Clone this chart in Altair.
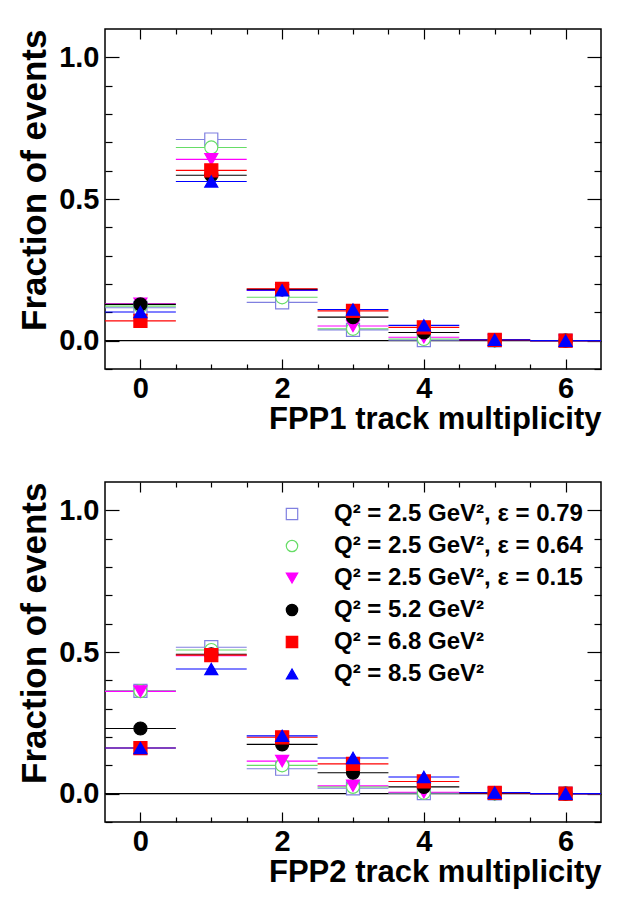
import altair as alt
import pandas as pd

bins = [0, 1, 2, 3, 4, 5, 6]
labels = [
    "Q² = 2.5 GeV², ε = 0.79",
    "Q² = 2.5 GeV², ε = 0.64",
    "Q² = 2.5 GeV², ε = 0.15",
    "Q² = 5.2 GeV²",
    "Q² = 6.8 GeV²",
    "Q² = 8.5 GeV²",
]
shapes = ["square", "circle", "triangle-down", "circle", "square", "triangle-up"]
fills = ["white", "white", "#ff00ff", "black", "#ff0000", "#0000ff"]
strokes = ["#8080e0", "#66dd66", "#ff00ff", "black", "#ff0000", "#0000ff"]

fpp1 = [
    [0.116, 0.710, 0.135, 0.038, 0.002, 0.001, 0.000],
    [0.122, 0.682, 0.153, 0.042, 0.006, 0.001, 0.000],
    [0.130, 0.640, 0.177, 0.052, 0.012, 0.001, 0.000],
    [0.128, 0.584, 0.181, 0.083, 0.029, 0.002, 0.000],
    [0.070, 0.601, 0.183, 0.105, 0.047, 0.003, 0.000],
    [0.101, 0.562, 0.178, 0.110, 0.054, 0.003, 0.000],
]
fpp2 = [
    [0.363, 0.517, 0.088, 0.019, 0.002, 0.001, 0.000],
    [0.362, 0.507, 0.100, 0.024, 0.003, 0.001, 0.000],
    [0.361, 0.487, 0.115, 0.028, 0.005, 0.001, 0.000],
    [0.230, 0.492, 0.174, 0.074, 0.024, 0.002, 0.000],
    [0.161, 0.489, 0.199, 0.105, 0.043, 0.003, 0.000],
    [0.161, 0.440, 0.204, 0.126, 0.059, 0.004, 0.000],
]

x_major = [0, 2, 4, 6]
x_minor = [0.5, 1, 1.5, 2.5, 3, 3.5, 4.5, 5, 5.5]
y_major = [0.0, 0.5, 1.0]
y_minor = [-0.1, 0.1, 0.2, 0.3, 0.4, 0.6, 0.7, 0.8, 0.9]

FONT = "Liberation Sans"
W, H = 496, 340

xs = alt.Scale(domain=[-0.5, 6.5], nice=False, zero=False)
ys = alt.Scale(domain=[-0.1, 1.1], nice=False, zero=False)


def make_df(vals):
    rows = []
    for i, (lab, series) in enumerate(zip(labels, vals)):
        for b, v in zip(bins, series):
            rows.append({"series": lab, "sid": i, "bin": b, "lo": b - 0.5,
                         "hi": b + 0.5, "frac": v})
    return pd.DataFrame(rows)


def ax(orient, values, size, labels_on=False, title=None, fmt=None, pad=6,
       tsize=31, tpad=4):
    kw = dict(
        orient=orient, values=values, tickSize=size, offset=-size,
        domain=False, grid=False, tickColor="black", tickWidth=1.2,
        labels=labels_on, labelFlush=False, labelOverlap=False,
    )
    if labels_on:
        kw.update(labelFont=FONT, labelFontSize=29, labelFontWeight="bold",
                  labelColor="black", labelPadding=pad)
        if fmt:
            kw["format"] = fmt
    if title:
        kw.update(title=title, titleFont=FONT, titleFontSize=tsize,
                  titleFontWeight="bold", titleColor="black", titleAnchor="end",
                  titlePadding=tpad)
    else:
        kw["title"] = None
    return alt.Axis(**kw)


def panel(vals, xtitle, show_legend):
    df = make_df(vals)
    base = alt.Chart(df)

    def axis_layer(xaxis, yaxis):
        return base.mark_point(opacity=0).encode(
            x=alt.X("bin:Q", scale=xs, axis=xaxis),
            y=alt.Y("frac:Q", scale=ys, axis=yaxis),
        )

    a1 = axis_layer(ax("bottom", x_major, 10, True, xtitle, "d", 5, 31, 1),
                    ax("left", y_major, 14, True, "Fraction of events", ".1f", 6, 35, 6))
    a2 = axis_layer(ax("bottom", x_minor, 5), ax("left", y_minor, 7))
    a3 = axis_layer(ax("top", x_major, 10), ax("right", y_major, 14))
    a4 = axis_layer(ax("top", x_minor, 5), ax("right", y_minor, 7))

    zero = base.mark_rule(color="black", strokeWidth=1.2).encode(
        y=alt.Y("z:Q", scale=ys, axis=None)
    ).transform_filter("datum.bin == 0 && datum.sid == 0").transform_calculate(z="0")

    bars = base.mark_rule(strokeWidth=1.1).encode(
        x=alt.X("lo:Q", scale=xs, axis=None),
        x2="hi:Q",
        y=alt.Y("frac:Q", scale=ys, axis=None),
        color=alt.Color("sid:N", scale=alt.Scale(domain=list(range(6)), range=strokes),
                        legend=None),
    )

    if show_legend:
        leg = alt.Legend(
            title=None, orient="none", legendX=175, legendY=20, padding=0,
            labelFont=FONT, labelFontSize=24, labelFontWeight="bold", labelColor="black",
            labelLimit=400, labelOffset=30, rowPadding=8, symbolSize=130,
            symbolStrokeWidth=1.2,
        )
    else:
        leg = None

    pts = base.mark_point(size=170, strokeWidth=1.2, opacity=1, filled=False).encode(
        x=alt.X("bin:Q", scale=xs, axis=None),
        y=alt.Y("frac:Q", scale=ys, axis=None),
        shape=alt.Shape("series:N", scale=alt.Scale(domain=labels, range=shapes), legend=leg),
        fill=alt.Fill("series:N", scale=alt.Scale(domain=labels, range=fills), legend=leg),
        stroke=alt.Stroke("series:N", scale=alt.Scale(domain=labels, range=strokes), legend=leg),
        order=alt.Order("sid:Q"),
    )

    return alt.layer(a1, a2, a3, a4, zero, bars, pts).resolve_axis(
        x="independent", y="independent"
    ).properties(width=W, height=H)


top = panel(fpp1, "FPP1 track multiplicity", False)
bottom = panel(fpp2, "FPP2 track multiplicity", True)

chart = alt.vconcat(top, bottom, spacing=45).resolve_scale(
    color="independent", fill="independent", stroke="independent", shape="independent"
).configure(
    padding={"left": 8, "top": 19, "right": 5, "bottom": 5},
    background="white",
).configure_view(stroke="black", strokeWidth=1.5)

chart.save("out.html", embed_options={"renderer": "svg", "actions": False})
